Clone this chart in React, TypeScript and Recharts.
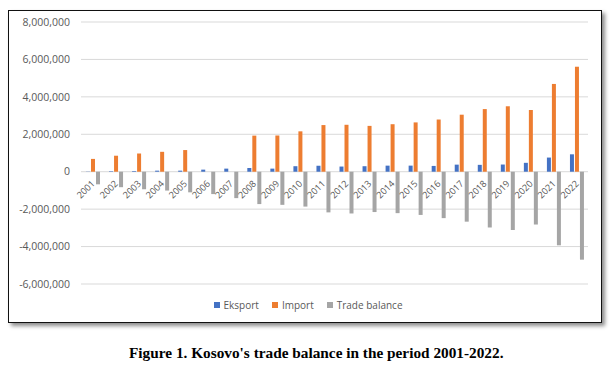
import React from 'react';
import { BarChart, Bar, XAxis, YAxis, CartesianGrid } from 'recharts';

const years = ['2001','2002','2003','2004','2005','2006','2007','2008','2009','2010','2011','2012','2013','2014','2015','2016','2017','2018','2019','2020','2021','2022'];
const eksport = [10559, 27599, 35621, 56567, 56283, 110774, 165112, 198463, 165328, 294029, 319165, 276100, 293840, 324543, 325294, 309627, 378001, 367000, 384000, 475000, 756000, 930000];
const importVals: (number | null)[] = [684500, 854760, 973265, 1063347, 1157492, null, null, 1928200, 1935541, 2157725, 2492262, 2507609, 2449064, 2538337, 2634693, 2789450, 3047017, 3347000, 3496968, 3297700, 4690000, 5610000];
const tradeBalance = [-673941, -827161, -937644, -1006780, -1101209, -1195105, -1411074, -1729737, -1770213, -1863696, -2173097, -2231509, -2155224, -2213794, -2309399, -2479823, -2669016, -2980000, -3113000, -2822000, -3932000, -4700000];
const yTicks = [-6000000, -4000000, -2000000, 0, 2000000, 4000000, 6000000, 8000000];
const seriesNames = ['Eksport', 'Import', 'Trade balance'];
const caption = "Figure 1. Kosovo's trade balance in the period 2001-2022.";

const data = years.map((y, i) => ({ year: y, eksport: eksport[i], imp: importVals[i], tb: tradeBalance[i] }));

const W = 612;
const H = 365;
const M_TOP = 22;
const M_BOTTOM = 51;
const XAXIS_H = 30;
const Y_MIN = -6000000;
const Y_MAX = 8000000;
const PLOT_H = H - M_TOP - M_BOTTOM - XAXIS_H;
const ZERO_SHIFT = PLOT_H * (0 - Y_MIN) / (Y_MAX - Y_MIN);

const colors = ['#4472C4', '#ED7D31', '#A5A5A5'];
const textColor = '#595959';
const font = "'Open Sans', sans-serif";

const XTick = (props: any) => {
  const { x, y, payload } = props;
  const ax = x + 3;
  const ay = y - ZERO_SHIFT + 12.5;
  return (
    <text x={ax} y={ay} transform={`rotate(-45, ${ax}, ${ay})`} textAnchor="end" fill={textColor} fontSize={9.2} fontFamily={font}>
      {payload.value}
    </text>
  );
};

export default function App() {
  return (
    <div style={{ position: 'absolute', left: 0, top: 0, width: W, height: H, background: '#fff' }}>
      <div style={{ position: 'absolute', left: 8, top: 10, width: 592, height: 311, border: '1.5px solid #111', boxShadow: '3px 3px 4px rgba(0,0,0,0.45)', background: '#fff' }} />
      <div style={{ position: 'absolute', left: 0, top: 0 }}>
        <BarChart width={W} height={H} data={data} margin={{ top: M_TOP, right: 24, bottom: M_BOTTOM, left: 0 }} barSize={4} barGap={1}>
          <CartesianGrid vertical={false} stroke="#d9d9d9" />
          <YAxis domain={[Y_MIN, Y_MAX]} ticks={yTicks} axisLine={false} tickLine={false} tickSize={0} tickMargin={11} width={81}
            tickFormatter={(v: number) => v.toLocaleString('en-US')}
            tick={{ fill: textColor, fontSize: 10.5, fontFamily: font }} />
          <Bar dataKey="eksport" name={seriesNames[0]} fill={colors[0]} isAnimationActive={false} />
          <Bar dataKey="imp" name={seriesNames[1]} fill={colors[1]} isAnimationActive={false} />
          <Bar dataKey="tb" name={seriesNames[2]} fill={colors[2]} isAnimationActive={false} />
          <XAxis dataKey="year" axisLine={false} tickLine={false} tickSize={0} tickMargin={0} height={XAXIS_H} interval={0} tick={<XTick />} />
        </BarChart>
      </div>
      <div style={{ position: 'absolute', left: 0, top: 298, width: 616, display: 'flex', justifyContent: 'center', gap: 13, fontFamily: font, fontSize: 10, color: textColor, lineHeight: '14px' }}>
        {seriesNames.map((n, i) => (
          <div key={n} style={{ display: 'flex', alignItems: 'center' }}>
            <span style={{ display: 'inline-block', width: 6, height: 6, background: colors[i], marginRight: 4 }} />
            <span>{n}</span>
          </div>
        ))}
      </div>
      <div style={{ position: 'absolute', left: 129, top: 344, whiteSpace: 'nowrap', fontFamily: "'Liberation Serif', 'Times New Roman', serif", fontWeight: 'bold', fontSize: 15.3, lineHeight: '18px', color: '#000' }}>
        {caption}
      </div>
    </div>
  );
}
